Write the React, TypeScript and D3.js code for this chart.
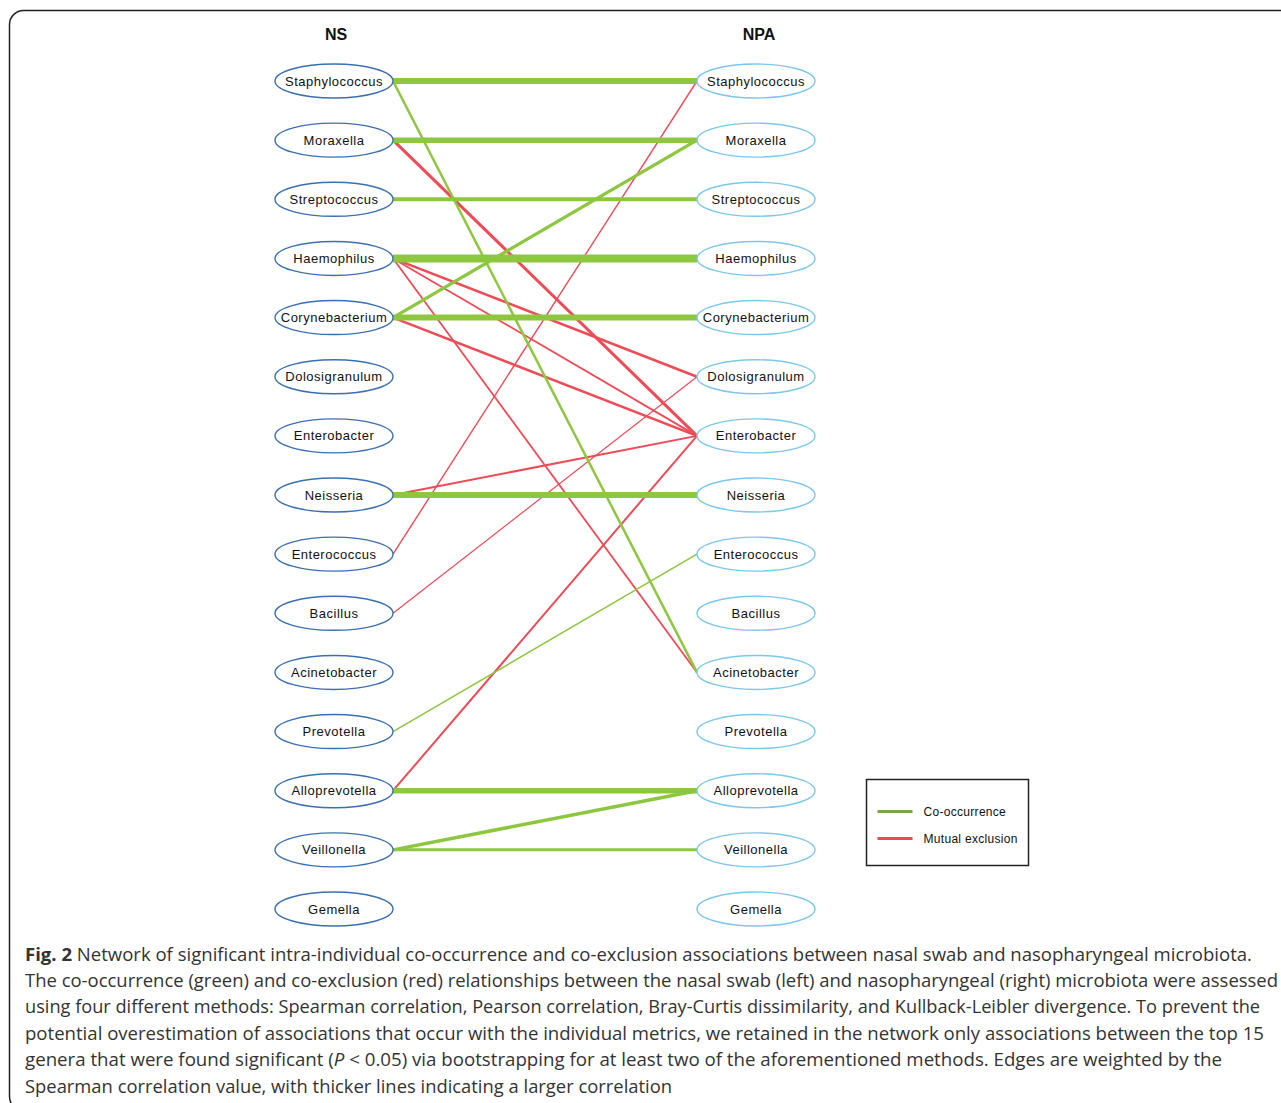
import React from "react";
import * as d3 from "d3";

// Top 15 genera, same order on both sides
const genera = [
  "Staphylococcus", "Moraxella", "Streptococcus", "Haemophilus", "Corynebacterium",
  "Dolosigranulum", "Enterobacter", "Neisseria", "Enterococcus", "Bacillus",
  "Acinetobacter", "Prevotella", "Alloprevotella", "Veillonella", "Gemella",
];

// Co-occurrence edges: [NS genus, NPA genus, Spearman weight]
const coOccurrence: [string, string, number][] = [
  ["Staphylococcus", "Staphylococcus", 0.6],
  ["Staphylococcus", "Acinetobacter", 0.25],
  ["Moraxella", "Moraxella", 0.55],
  ["Streptococcus", "Streptococcus", 0.4],
  ["Haemophilus", "Haemophilus", 0.8],
  ["Corynebacterium", "Moraxella", 0.33],
  ["Corynebacterium", "Corynebacterium", 0.6],
  ["Neisseria", "Neisseria", 0.6],
  ["Prevotella", "Enterococcus", 0.15],
  ["Alloprevotella", "Alloprevotella", 0.55],
  ["Veillonella", "Alloprevotella", 0.35],
  ["Veillonella", "Veillonella", 0.3],
];

// Mutual exclusion edges: [NS genus, NPA genus, |Spearman| weight]
const mutualExclusion: [string, string, number][] = [
  ["Moraxella", "Enterobacter", 0.3],
  ["Haemophilus", "Dolosigranulum", 0.25],
  ["Haemophilus", "Enterobacter", 0.18],
  ["Haemophilus", "Acinetobacter", 0.18],
  ["Corynebacterium", "Enterobacter", 0.25],
  ["Neisseria", "Enterobacter", 0.2],
  ["Enterococcus", "Staphylococcus", 0.14],
  ["Bacillus", "Dolosigranulum", 0.12],
  ["Alloprevotella", "Enterobacter", 0.2],
];

const columnTitles = ["NS", "NPA"];
const legendLabels = ["Co-occurrence", "Mutual exclusion"];

const captionLines = [
  "The co-occurrence (green) and co-exclusion (red) relationships between the nasal swab (left) and nasopharyngeal (right) microbiota were assessed",
  "using four different methods: Spearman correlation, Pearson correlation, Bray-Curtis dissimilarity, and Kullback-Leibler divergence. To prevent the",
  "potential overestimation of associations that occur with the individual metrics, we retained in the network only associations between the top 15",
];

const GREEN = "#8dc63f";
const RED = "#ef4b57";
const NS_STROKE = "#3b70b0";
const NPA_STROKE = "#7cc7ea";

export default function App() {
  const W = 1281;
  const H = 1103;
  const leftX = 334;
  const rightX = 756;
  const rx = 59;
  const ry = 17;

  const y = d3.scalePoint<string>().domain(genera).range([81, 909]);
  const width = d3.scaleLinear().domain([0, 1]).range([0, 10]);

  const edges = [
    ...mutualExclusion.map((e) => ({ s: e[0], t: e[1], w: e[2], c: RED })),
    ...coOccurrence.map((e) => ({ s: e[0], t: e[1], w: e[2], c: GREEN })),
  ];
  const link = (e: { s: string; t: string }) =>
    d3.line()([
      [leftX + rx, y(e.s)!],
      [rightX - rx, y(e.t)!],
    ]) as string;

  const nodeFont = "'Liberation Sans', Arial, sans-serif";
  const capFont = "'Open Sans', 'Noto Sans', sans-serif";
  const capY = [953, 979, 1005, 1032, 1058, 1085];

  return (
    <div style={{ position: "absolute", left: 0, top: 0 }}>
      <svg width={W} height={H} style={{ display: "block" }}>
        <rect x={0} y={0} width={W} height={H} fill="#fff" />
        <rect x={9.5} y={10.5} width={1300} height={1100} rx={14} fill="none" stroke="#222" strokeWidth={1.5} />

        {columnTitles.map((t, i) => (
          <text key={t} x={i === 0 ? 336 : 759} y={34} textAnchor="middle" dominantBaseline="central"
            fontFamily={nodeFont} fontWeight="bold" fontSize={16} fill="#111">{t}</text>
        ))}

        <g fill="none">
          {edges.map((e, i) => (
            <path key={i} d={link(e)} stroke={e.c} strokeWidth={width(e.w)} />
          ))}
        </g>

        {[0, 1].map((side) =>
          genera.map((g) => (
            <g key={side + g} transform={`translate(${side === 0 ? leftX : rightX},${y(g)})`}>
              <ellipse rx={rx} ry={ry} fill="#fff" stroke={side === 0 ? NS_STROKE : NPA_STROKE} strokeWidth={1.4} />
              <text textAnchor="middle" dominantBaseline="central" fontFamily={nodeFont} fontSize={13}
                letterSpacing={0.5} fill="#111">{g}</text>
            </g>
          ))
        )}

        <g transform="translate(866.5,779.5)">
          <rect width={162} height={86} fill="#fff" stroke="#222" strokeWidth={1.5} />
          {legendLabels.map((l, i) => (
            <g key={l} transform={`translate(0,${32 + i * 27})`}>
              <line x1={11} x2={46} stroke={i === 0 ? "#78a845" : "#e94b55"} strokeWidth={3} />
              <text x={57} dominantBaseline="central" fontFamily={nodeFont} fontSize={12}
                letterSpacing={0.3} fill="#111">{l}</text>
            </g>
          ))}
        </g>

        <g fontFamily={capFont} fontSize={18.5} fill="#333">
          <text x={25} y={capY[0]} dominantBaseline="central" textLength={1227} lengthAdjust="spacingAndGlyphs">
            <tspan fontWeight="bold">Fig. 2</tspan> Network of significant intra-individual co-occurrence and co-exclusion associations between nasal swab and nasopharyngeal microbiota.
          </text>
          {captionLines.map((l, i) => (
            <text key={i} x={25} y={capY[i + 1]} dominantBaseline="central"
              textLength={[1253, 1235, 1239][i]} lengthAdjust="spacingAndGlyphs">{l}</text>
          ))}
          <text x={25} y={capY[4]} dominantBaseline="central" textLength={1197} lengthAdjust="spacingAndGlyphs">
            genera that were found significant (<tspan fontStyle="italic">P</tspan> &lt; 0.05) via bootstrapping for at least two of the aforementioned methods. Edges are weighted by the
          </text>
          <text x={25} y={capY[5]} dominantBaseline="central" textLength={647} lengthAdjust="spacingAndGlyphs">
            Spearman correlation value, with thicker lines indicating a larger correlation
          </text>
        </g>
      </svg>
    </div>
  );
}
